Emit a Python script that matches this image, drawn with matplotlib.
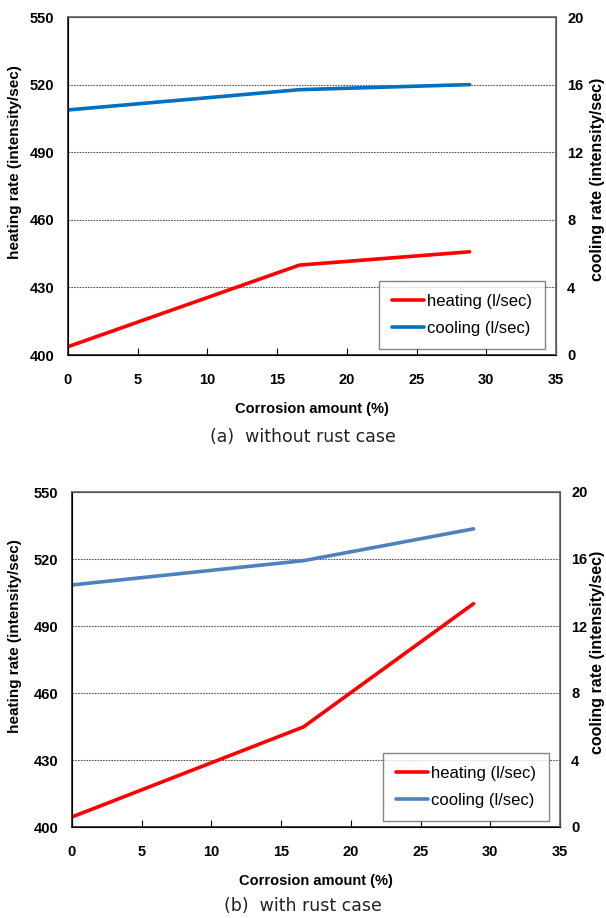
import matplotlib
matplotlib.use("Agg")
import matplotlib.pyplot as plt

# corrosion amount (%)
corrosion = [0, 16.6, 28.8]

# (a) without rust case
heat_a = [403.7, 439.9, 445.8]
cool_a = [14.5, 15.7, 16.0]

# (b) with rust case
heat_b = [404.5, 444.8, 500.0]
cool_b = [14.45, 15.9, 17.8]

xticks = [0, 5, 10, 15, 20, 25, 30, 35]
left_ticks = [400, 430, 460, 490, 520, 550]
right_ticks = [0, 4, 8, 12, 16, 20]

plt.rcParams['font.family'] = ['Liberation Sans Narrow', 'Liberation Sans', 'DejaVu Sans']

W, H = 606, 918


def panel(fig, box, heat, cool, cool_color, caption, cap_y):
    left, top, right, bottom = box
    w, h = right - left, bottom - top
    ax = fig.add_axes([left / W, 1 - bottom / H, w / W, h / H])
    ax2 = ax.twinx()

    ax.set_xlim(0, 35)
    ax.set_ylim(400, 550)
    ax2.set_ylim(0, 20)
    ax.set_xticks(xticks)
    ax.set_yticks(left_ticks)
    ax2.set_yticks(right_ticks)

    for v in left_ticks[1:-1]:
        ax.axhline(v, color='#555555', lw=0.8, ls=(0, (1.5, 1)), zorder=0)

    hl, = ax.plot(corrosion, heat, color='#ff0000', lw=2.6, solid_capstyle='round',
                  label='heating (l/sec)')
    cl, = ax2.plot(corrosion, cool, color=cool_color, lw=2.6, solid_capstyle='round',
                   label='cooling (l/sec)')

    ax.tick_params(axis='x', direction='in', length=5, pad=13, labelsize=10.5)
    ax.tick_params(axis='y', length=0, pad=10, labelsize=10.5)
    ax2.tick_params(axis='y', length=0, pad=8, labelsize=10.5)
    for lab in ax.get_xticklabels() + ax.get_yticklabels() + ax2.get_yticklabels():
        lab.set_fontweight('bold')

    for s in ['left', 'bottom']:
        ax.spines[s].set_color('#222222')
        ax.spines[s].set_linewidth(1.2)
    for s in ['top', 'right']:
        ax2.spines[s].set_color('#666666')
        ax2.spines[s].set_linewidth(1.2)

    ax.set_xlabel('Corrosion amount (%)', fontsize=10.5, fontweight='bold', labelpad=11)
    ax.set_ylabel('heating rate (intensity/sec)', fontsize=11, fontweight='bold')
    ax2.set_ylabel('cooling rate (intensity/sec)', fontsize=11.5, fontweight='bold')
    ax.yaxis.set_label_coords((22 - left) / w, 0.57)
    ax2.yaxis.set_label_coords((590 - left) / w, 0.52)

    leg = ax2.legend(handles=[hl, cl], loc='lower right',
                     bbox_to_anchor=(1 - 11 / w, 6 / h), borderaxespad=0,
                     fontsize=12, frameon=True, fancybox=False, handlelength=1.9,
                     handletextpad=0.15, borderpad=0.8, labelspacing=0.7)
    leg.get_frame().set_edgecolor('#666666')
    leg.get_frame().set_linewidth(1.0)

    fig.text(0.5, cap_y, caption, ha='center', va='center', fontsize=12.5,
             family=['DejaVu Sans'], color='#222222')
    return ax


fig = plt.figure(figsize=(6.06, 9.18), dpi=100)
panel(fig, (68, 17, 556, 355), heat_a, cool_a, '#0070c0',
      '(a)  without rust case', 1 - 437 / H)
panel(fig, (72, 492, 560, 827), heat_b, cool_b, '#4f81bd',
      '(b)  with rust case', 1 - 906 / H)

fig.savefig('out.png', dpi=100)
